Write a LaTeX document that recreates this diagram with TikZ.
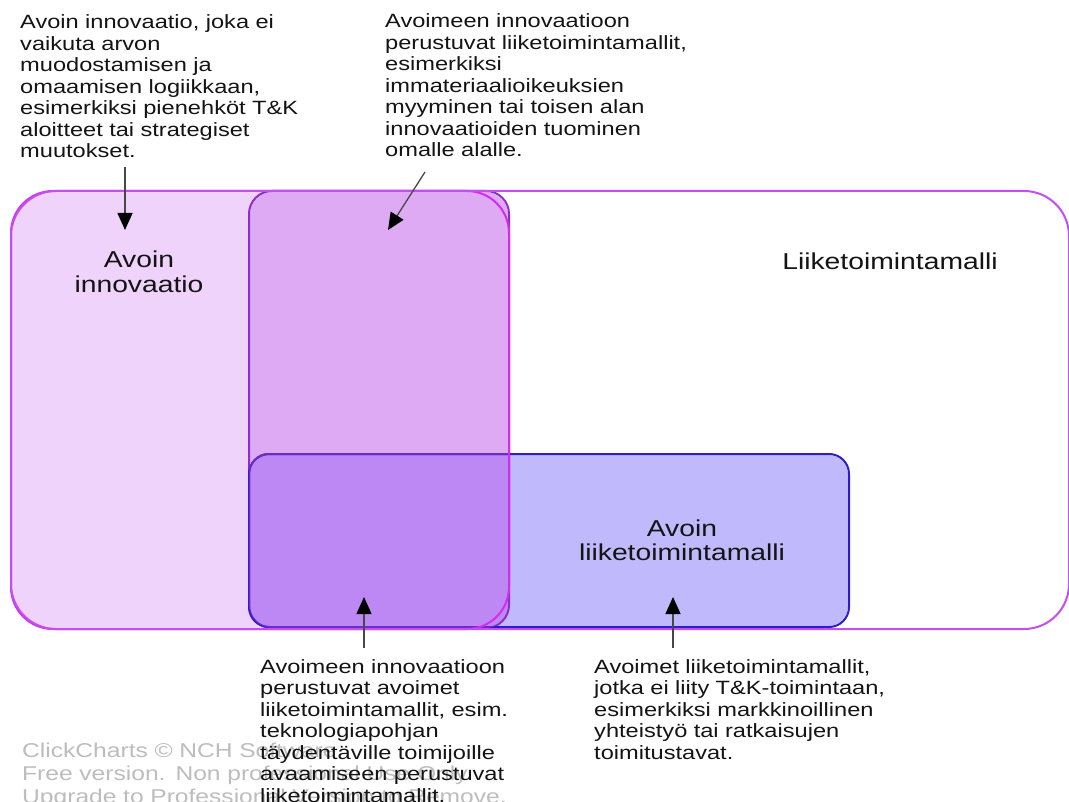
\documentclass[tikz,border=0pt]{standalone}
\usepackage{fontspec}
\setmainfont{Liberation Sans}[FakeStretch=1.23]
\usetikzlibrary{arrows.meta}

\definecolor{outerline}{HTML}{C44EF0}
\definecolor{innofill}{HTML}{F0D3FA}
\definecolor{innoline}{HTML}{D22CF2}
\definecolor{oibmfill}{HTML}{DEAAF4}
\definecolor{oibmline}{HTML}{8E2CCC}
\definecolor{openfill}{HTML}{C0BAFC}
\definecolor{openline}{HTML}{2C1CCC}
\definecolor{bothfill}{HTML}{BE88F4}
\definecolor{bothline}{HTML}{6C2CC8}
\definecolor{wmgray}{HTML}{BDBDBD}

\begin{document}
\begin{tikzpicture}[x=1pt,y=-1pt,
  area/.style={rectangle, inner sep=0pt, line width=2pt},
  note/.style={anchor=base west, inner sep=0pt, text width=420pt, align=left,
    font=\fontsize{19.2}{21.5}\selectfont, text=black!92},
  label/.style={anchor=base, inner sep=0pt, text width=300pt, align=center,
    font=\fontsize{23}{24.5}\selectfont, text=black!92},
  wmtext/.style={anchor=base west, inner sep=0pt, text width=600pt, align=left,
    font=\fontsize{20}{23}\selectfont, text=wmgray},
  pointer/.style={draw=black!72, line width=1.3pt,
    -{Triangle[length=17pt,width=15pt,color=black]}}]

\useasboundingbox (0,0) rectangle (1069,802);
\fill[white] (0,0) rectangle (1069,802);

% filled areas
\node[area, fill=white, minimum width=1056pt, minimum height=436pt,
  rounded corners=45pt] (bm) at (540,410) {};
\node[area, fill=innofill, minimum width=496pt, minimum height=436pt,
  rounded corners=42pt] (oi) at (260,410) {};
\node[area, fill=oibmfill, minimum width=258pt, minimum height=435pt,
  rounded corners=23pt] (oibm) at (379,409.5) {};
\node[area, fill=openfill, minimum width=598pt, minimum height=171pt,
  rounded corners=20pt] (obm) at (549,540.5) {};

% overlap of the two lower-left areas
\begin{scope}
  \clip[rounded corners=23pt] (oibm.south west) rectangle (oibm.north east);
  \fill[bothfill, rounded corners=20pt] (obm.south west) rectangle (obm.north east);
\end{scope}

% outlines
\draw[oibmline, line width=2pt, rounded corners=23pt]
  (oibm.south west) rectangle (oibm.north east);
\draw[openline, line width=2pt, rounded corners=20pt]
  (obm.south west) rectangle (obm.north east);
\begin{scope}
  \clip[rounded corners=23pt] (oibm.south west) rectangle (oibm.north east);
  \draw[bothline, line width=2pt, rounded corners=20pt]
    (obm.south west) rectangle (obm.north east);
\end{scope}
\draw[innoline, line width=2pt, rounded corners=42pt]
  (oi.south west) rectangle (oi.north east);
\draw[outerline, line width=2pt, rounded corners=45pt]
  (bm.south west) rectangle (bm.north east);

% area labels
\node[label] (loi) at (139,268) {Avoin\\innovaatio};
\node[label] (lbm) at (890,270) {Liiketoimintamalli};
\node[label] (lobm) at (682,536) {Avoin\\liiketoimintamalli};

% watermark
\node[wmtext] (wm) at (22,757) {ClickCharts © NCH Software\\Free version. Non professional Use Only.\\Upgrade to Professional Version to Remove.};

% explanatory notes
\node[note] (n1) at (20,29) {Avoin innovaatio, joka ei\\vaikuta arvon\\muodostamisen ja\\omaamisen logiikkaan,\\esimerkiksi pienehköt T\&K\\aloitteet tai strategiset\\muutokset.};
\node[note] (n2) at (385,28) {Avoimeen innovaatioon\\perustuvat liiketoimintamallit,\\esimerkiksi\\immateriaalioikeuksien\\myyminen tai toisen alan\\innovaatioiden tuominen\\omalle alalle.};
\node[note] (n3) at (260,673) {Avoimeen innovaatioon\\perustuvat avoimet\\liiketoimintamallit, esim.\\teknologiapohjan\\täydentäville toimijoille\\avaamiseen perustuvat\\liiketoimintamallit.};
\node[note] (n4) at (594,673) {Avoimet liiketoimintamallit,\\jotka ei liity T\&K-toimintaan,\\esimerkiksi markkinoillinen\\yhteistyö tai ratkaisujen\\toimitustavat.};

% pointers
\coordinate (a1s) at (125,167);
\coordinate (a1e) at (125,230);
\coordinate (a2s) at (425,172);
\coordinate (a2e) at (388,230);
\coordinate (a3s) at (364,648);
\coordinate (a3e) at (364,597);
\coordinate (a4s) at (673,648);
\coordinate (a4e) at (673,597);
\draw[pointer] (a1s) -- (a1e);
\draw[pointer] (a2s) -- (a2e);
\draw[pointer] (a3s) -- (a3e);
\draw[pointer] (a4s) -- (a4e);
\end{tikzpicture}
\end{document}
